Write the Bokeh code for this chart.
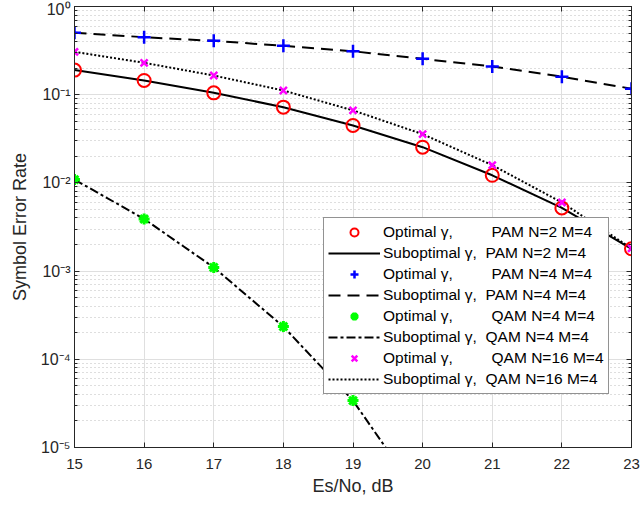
from bokeh.plotting import figure
from bokeh.models import (LogAxis, LinearAxis, Legend, LegendItem, CustomJSTickFormatter,
                          FixedTicker, LogTicker, Range1d)
from bokeh.embed import file_html
from bokeh.resources import INLINE

# ---- data ----
snr = [15, 16, 17, 18, 19, 20, 21, 22, 23]
pam2_opt = [0.190, 0.145, 0.105, 0.0722, 0.0448, 0.0254, 0.0122, 0.0052, 0.00179]
pam2_sub = [0.190, 0.145, 0.105, 0.0722, 0.0448, 0.0254, 0.0122, 0.0052, 0.00179]
pam4_opt = [0.503, 0.449, 0.408, 0.358, 0.311, 0.255, 0.209, 0.160, 0.117]
pam4_sub = [0.503, 0.449, 0.408, 0.358, 0.311, 0.255, 0.209, 0.160, 0.117]
qam4_snr = [15, 16, 17, 18, 19, 20]
qam4_opt = [0.0109, 0.0039, 0.0011, 0.000235, 0.000034, 0.0000025]
qam4_sub = [0.0109, 0.0039, 0.0011, 0.000235, 0.000034, 0.0000025]
qam16_opt = [0.306, 0.230, 0.165, 0.1116, 0.0664, 0.0357, 0.0159, 0.0060, 0.00181]
qam16_sub = [0.306, 0.230, 0.165, 0.1116, 0.0664, 0.0357, 0.0159, 0.0060, 0.00181]
x_ticks = [15, 16, 17, 18, 19, 20, 21, 22, 23]

FONT = "Liberation Sans"
AX = "#262626"

p = figure(width=642, height=502, y_axis_type="log",
           x_range=Range1d(15, 23), y_range=Range1d(1e-5, 1),
           output_backend="svg", toolbar_location=None,
           min_border_left=74, min_border_right=11, min_border_top=6, min_border_bottom=55)
p.background_fill_color = "white"
p.border_fill_color = "white"
p.outline_line_color = AX
p.outline_line_width = 1

sup_fmt = CustomJSTickFormatter(code="""
const e = Math.round(Math.log10(tick));
const m = {'-':'\u207b','0':'\u2070','1':'\u00b9','2':'\u00b2','3':'\u00b3','4':'\u2074','5':'\u2075','6':'\u2076','7':'\u2077','8':'\u2078','9':'\u2079'};
return '10' + String(e).split('').map(c => m[c]).join('');
""")

yt = LogTicker(num_minor_ticks=10)
xt = FixedTicker(ticks=x_ticks)

for ax in p.xaxis:
    ax.ticker = xt
for ax in p.yaxis:
    ax.ticker = yt
    ax.formatter = sup_fmt

for ax in list(p.xaxis) + list(p.yaxis):
    ax.axis_line_color = AX
    ax.major_tick_line_color = AX
    ax.minor_tick_line_color = AX
    ax.major_tick_in = 5
    ax.major_tick_out = 0
    ax.minor_tick_in = 3
    ax.minor_tick_out = 0
    ax.major_label_text_font = FONT
    ax.major_label_text_font_size = "15px"
    ax.major_label_text_color = AX
    ax.axis_label_text_font = FONT
    ax.axis_label_text_font_size = "18px"
    ax.axis_label_text_font_style = "normal"
    ax.axis_label_text_color = AX

p.yaxis.major_label_text_font_size = "16px"
p.xaxis.axis_label = "Es/No, dB"
p.yaxis.axis_label = "Symbol Error Rate"
p.xaxis.major_label_standoff = 11
p.xaxis.axis_label_standoff = 4
p.yaxis.major_label_standoff = 4
p.yaxis.axis_label_standoff = 8
p.xaxis.minor_tick_line_color = None

blank = CustomJSTickFormatter(code="return '';")
top = LinearAxis(ticker=xt, formatter=blank, major_tick_in=5, major_tick_out=0,
                 minor_tick_line_color=None, axis_line_color=AX, major_tick_line_color=AX,
                 major_label_standoff=0)
right = LogAxis(ticker=yt, formatter=blank, major_tick_in=5, major_tick_out=0,
                minor_tick_in=3, minor_tick_out=0, axis_line_color=AX, major_tick_line_color=AX,
                minor_tick_line_color=AX, major_label_standoff=0)
p.add_layout(top, "above")
p.add_layout(right, "right")

# grids
p.xgrid.ticker = xt
p.ygrid.ticker = yt
p.xgrid.grid_line_color = "#dfdfdf"
p.ygrid.grid_line_color = "#dfdfdf"
p.ygrid.minor_grid_line_color = "#bdbdbd"
p.ygrid.minor_grid_line_dash = "1 3"
p.ygrid.minor_grid_line_width = 1

# series
r2 = p.line(snr, pam2_sub, line_color="black", line_width=2)
r4 = p.line(snr, pam4_sub, line_color="black", line_width=2, line_dash="12 7")
r6 = p.line(qam4_snr, qam4_sub, line_color="black", line_width=2, line_dash="9 3 3 3")
r8 = p.line(snr, qam16_sub, line_color="black", line_width=2, line_dash="2 2")
r1 = p.scatter(snr, pam2_opt, marker="circle", size=13, fill_color=None, line_color="#ff0000", line_width=2)
r3 = p.scatter(snr, pam4_opt, marker="cross", size=13, line_color="#0000ff", line_width=2.5)
r5 = p.scatter(qam4_snr, qam4_opt, marker="asterisk", size=11, line_color="#00ff00", line_width=3)
r7 = p.scatter(snr, qam16_opt, marker="x", size=10, line_color="#ff00ff", line_width=2.5)

S = "\u00a0"
items = [
    LegendItem(label="Optimal \u03b3," + S * 9 + "PAM N=2 M=4", renderers=[r1]),
    LegendItem(label="Suboptimal \u03b3," + S * 2 + "PAM N=2 M=4", renderers=[r2]),
    LegendItem(label="Optimal \u03b3," + S * 9 + "PAM N=4 M=4", renderers=[r3]),
    LegendItem(label="Suboptimal \u03b3," + S * 2 + "PAM N=4 M=4", renderers=[r4]),
    LegendItem(label="Optimal \u03b3," + S * 9 + "QAM N=4 M=4", renderers=[r5]),
    LegendItem(label="Suboptimal \u03b3," + S * 2 + "QAM N=4 M=4", renderers=[r6]),
    LegendItem(label="Optimal \u03b3," + S * 9 + "QAM N=16 M=4", renderers=[r7]),
    LegendItem(label="Suboptimal \u03b3," + S * 2 + "QAM N=16 M=4", renderers=[r8]),
]
legend = Legend(items=items, location=(249, 53),
                label_text_font=FONT, label_text_font_size="15.5px", label_text_color="black",
                glyph_width=52, glyph_height=20, label_height=20, label_standoff=3,
                spacing=1, padding=4, margin=0,
                border_line_color=AX, border_line_width=1, background_fill_alpha=1)
p.add_layout(legend)

open("out.html", "w").write(file_html(p, INLINE))
